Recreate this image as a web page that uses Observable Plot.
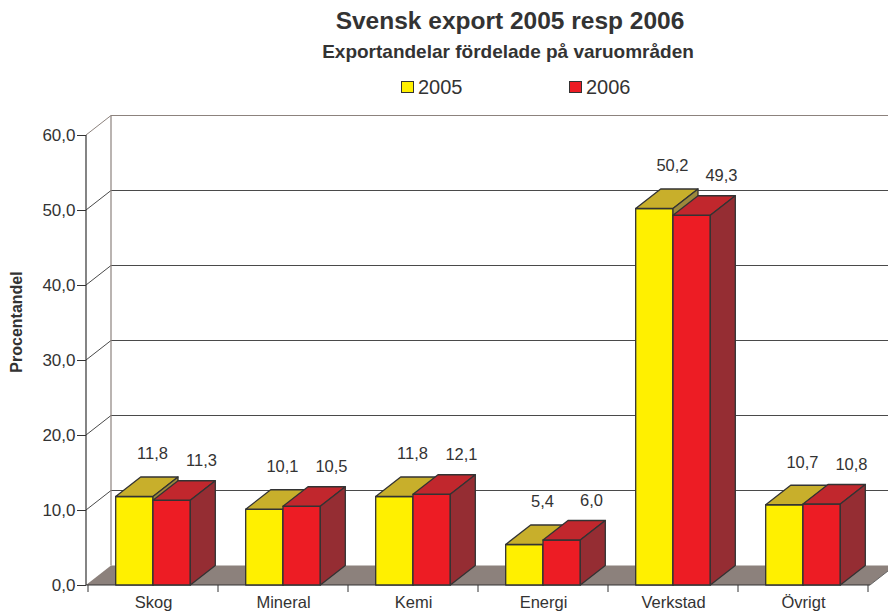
<!DOCTYPE html>
<html><head><meta charset="utf-8">
<script src="https://cdn.jsdelivr.net/npm/d3@7"></script>
<script src="https://cdn.jsdelivr.net/npm/@observablehq/plot@0.6"></script>
<style>
body{margin:0;background:#fff;font-family:"Liberation Sans",Arial,Helvetica,sans-serif;color:#333}
#wrap{position:relative;width:888px;height:615px;overflow:hidden;background:#fff}
#title{position:absolute;left:0;width:1020px;top:6px;text-align:center;font-weight:bold;font-size:24.5px;line-height:30px}
#subtitle{position:absolute;left:0;width:1016px;top:41px;text-align:center;font-weight:bold;font-size:19px;line-height:22px}
.leg{position:absolute;top:76px;height:22px;display:flex;align-items:center;font-size:20px;line-height:22px}
.sw{display:inline-block;width:11px;height:10px;border:1px solid #333;margin-right:4px}
#ylab{position:absolute;left:17px;top:322px;transform:translate(-50%,-50%) rotate(-90deg);font-weight:bold;font-size:16px;white-space:nowrap}
#chart{position:absolute;left:0;top:100px}
</style></head>
<body><div id="wrap">
<div id="title">Svensk export 2005 resp 2006</div>
<div id="subtitle">Exportandelar fördelade på varuområden</div>
<div id="legend"></div>
<div id="ylab">Procentandel</div>
<div id="chart"></div>
</div>
<script>
const categories = ["Skog", "Mineral", "Kemi", "Energi", "Verkstad", "Övrigt"];
const seriesNames = ["2005", "2006"];
const values2005 = [11.8, 10.1, 11.8, 5.4, 50.2, 10.7];
const values2006 = [11.3, 10.5, 12.1, 6.0, 49.3, 10.8];
const yTicks = [0, 10, 20, 30, 40, 50, 60];

const seriesValues = {"2005": values2005, "2006": values2006};
const faceColors = {
  "2005": {front: "#FFF000", top: "#C8AF2B", side: "#9C893B"},
  "2006": {front: "#ED1C24", top: "#C1272D", side: "#952D33"}
};
const DX = 25, DY = -19.5;
const STROKE = "#333";
const fmt = v => v.toFixed(1).replace(".", ",");

const rows = seriesNames.map(s => categories.map((c, i) => ({cat: c, year: s, value: seriesValues[s][i]})));

// legend
const legend = document.getElementById("legend");
const legendX = {"2005": 401, "2006": 569};
seriesNames.forEach(s => {
  const d = document.createElement("div");
  d.className = "leg";
  d.style.left = legendX[s] + "px";
  d.innerHTML = `<span class="sw" style="background:${faceColors[s].front}"></span>${s}`;
  legend.appendChild(d);
});

function el(tag, attrs) {
  const e = document.createElementNS("http://www.w3.org/2000/svg", tag);
  for (const k in attrs) e.setAttribute(k, attrs[k]);
  return e;
}
const pts = a => a.map(p => p.join(",")).join(" ");

function bandInfo(x) {
  return x.bandwidth ? x.bandwidth() : (x(categories[1]) - x(categories[0]));
}

// walls, floor, gridlines, axis lines
function walls(index, scales, values, dims) {
  const {x, y} = scales;
  const g = el("g", {});
  const x0 = dims.marginLeft, x1 = dims.width - dims.marginRight;
  const y0 = y(0), yTop = y(yTicks[yTicks.length - 1]);
  g.appendChild(el("polygon", {points: pts([[x0, y0], [x1, y0], [x1 + DX, y0 + DY], [x0 + DX, y0 + DY]]), fill: "#8C817C"}));
  yTicks.forEach(t => {
    if (t === 0) return;
    const yt = y(t);
    const top = t === yTicks[yTicks.length - 1];
    g.appendChild(el("polyline", {points: pts([[x0, yt], [x0 + DX, yt + DY], [dims.width + 10, yt + DY]]), fill: "none", stroke: top ? "#8C827D" : "#4a4a4a", "stroke-width": 1}));
  });
  g.appendChild(el("line", {x1: x0 + DX, x2: x0 + DX, y1: y0 + DY, y2: yTop + DY, stroke: "#8C827D", "stroke-width": 1.2}));
  g.appendChild(el("line", {x1: x0, x2: x0, y1: y0, y2: yTop, stroke: STROKE, "stroke-width": 1.2}));
  g.appendChild(el("line", {x1: x0, x2: x1, y1: y0, y2: y0, stroke: STROKE, "stroke-width": 1.2}));
  g.appendChild(el("line", {x1: x1, x2: x1 + DX, y1: y0, y2: y0 + DY, stroke: "#666", "stroke-width": 1}));
  const bw = bandInfo(x);
  const bounds = categories.map(c => x(c)).concat([x(categories[categories.length - 1]) + bw]);
  bounds.forEach(b => g.appendChild(el("line", {x1: b, x2: b, y1: y0, y2: y0 + 7, stroke: STROKE, "stroke-width": 1})));
  return g;
}

// 3D bars
function bars(index, scales, values, dims) {
  const {x, y} = scales;
  const g = el("g", {stroke: STROKE, "stroke-width": 1.3, "stroke-linejoin": "round"});
  const bw = bandInfo(x);
  const w = bw * 0.287;
  categories.forEach((c, i) => {
    const center = x(c) + bw / 2;
    seriesNames.forEach((s, k) => {
      const v = seriesValues[s][i];
      const xl = center - w + k * w, xr = xl + w;
      const yt = y(v), yb = y(0);
      const col = faceColors[s];
      g.appendChild(el("polygon", {points: pts([[xl, yt], [xr, yt], [xr, yb], [xl, yb]]), fill: col.front}));
      g.appendChild(el("polygon", {points: pts([[xl, yt], [xr, yt], [xr + DX, yt + DY], [xl + DX, yt + DY]]), fill: col.top}));
      g.appendChild(el("polygon", {points: pts([[xr, yt], [xr, yb], [xr + DX, yb + DY], [xr + DX, yt + DY]]), fill: col.side}));
    });
  });
  return g;
}

const chart = Plot.plot({
  width: 888,
  height: 515,
  marginLeft: 86,
  marginRight: 18,
  marginTop: 35,
  marginBottom: 30,
  style: {fontFamily: "'Liberation Sans', Arial, sans-serif", fontSize: "17px", color: "#333", background: "transparent", overflow: "visible"},
  x: {type: "band", domain: categories, paddingInner: 0, paddingOuter: 0},
  y: {domain: [0, 60]},
  marks: [
    walls,
    bars,
    Plot.axisY({ticks: yTicks, tickFormat: fmt, tickSize: 9, tickPadding: 2, label: null, stroke: STROKE, fill: "#333", fontSize: 17}),
    Plot.axisX({tickSize: 0, tickPadding: 11, label: null, fill: "#333", fontSize: 16.5}),
    Plot.text(rows[0], {x: "cat", y: "value", text: d => fmt(d.value), dx: -1, dy: -43, fill: "#333", fontSize: 16.5}),
    Plot.text(rows[1], {x: "cat", y: "value", text: d => fmt(d.value), dx: 48, dy: -40, fill: "#333", fontSize: 16.5})
  ]
});
document.getElementById("chart").appendChild(chart);
</script>
</body></html>
